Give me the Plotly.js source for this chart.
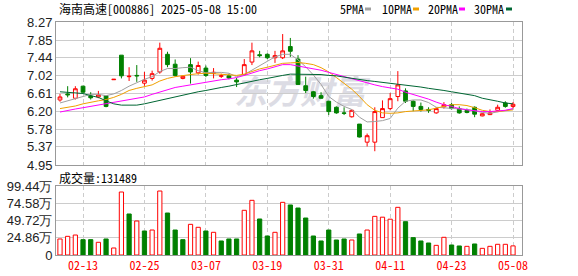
<!DOCTYPE html>
<html><head><meta charset="utf-8">
<script src="https://cdn.plot.ly/plotly-3.0.1.min.js"></script>
<style>html,body{margin:0;padding:0;background:#fff;}#chart{width:578px;height:276px;}</style>
</head><body><div id="chart"></div>
<script>
const dates = ['2025-02-10','2025-02-11','2025-02-12','2025-02-13','2025-02-14','2025-02-17','2025-02-18','2025-02-19','2025-02-20','2025-02-21',
'2025-02-24','2025-02-25','2025-02-26','2025-02-27','2025-02-28','2025-03-03','2025-03-04','2025-03-05','2025-03-06','2025-03-07',
'2025-03-10','2025-03-11','2025-03-12','2025-03-13','2025-03-14','2025-03-17','2025-03-18','2025-03-19','2025-03-20','2025-03-21',
'2025-03-24','2025-03-25','2025-03-26','2025-03-27','2025-03-28','2025-03-31','2025-04-01','2025-04-02','2025-04-03','2025-04-07',
'2025-04-08','2025-04-09','2025-04-10','2025-04-11','2025-04-14','2025-04-15','2025-04-16','2025-04-17','2025-04-18','2025-04-21',
'2025-04-22','2025-04-23','2025-04-24','2025-04-25','2025-04-28','2025-04-29','2025-04-30','2025-05-06','2025-05-07','2025-05-08'];
const openP  = [6.46,6.60,6.50,6.78,6.55,6.53,6.56,6.93,7.50,7.00, 7.03,6.85,6.96,7.11,7.52,7.29,6.96,7.28,7.09,7.20, 7.08,7.01,7.02,6.92,7.05,7.34,7.51,7.52,7.44,7.44, 7.70,7.41,6.79,6.65,6.56,6.43,6.29,6.16,6.07,5.90, 5.48,5.48,6.05,6.26,6.54,6.67,6.43,6.31,6.24,6.16, 6.30,6.35,6.26,6.22,6.29,6.09,6.12,6.22,6.39,6.31];
const highP  = [6.60,6.78,6.78,6.79,6.64,6.67,6.57,6.94,7.50,7.22, 7.27,7.11,7.14,7.79,7.58,7.40,7.02,7.43,7.35,7.26, 7.20,7.07,7.07,6.97,7.41,7.79,7.60,7.54,7.60,7.99, 7.90,7.50,7.00,6.67,6.64,6.44,6.31,6.29,6.24,5.90, 5.68,6.29,6.45,6.62,7.13,6.73,6.45,6.40,6.29,6.29, 6.41,6.39,6.31,6.26,6.31,6.15,6.24,6.35,6.43,6.41];
const lowP   = [6.42,6.52,6.47,6.63,6.47,6.50,6.29,6.93,6.96,6.90, 6.88,6.79,6.91,7.07,7.22,7.00,6.94,6.84,7.05,6.99, 6.96,6.97,6.94,6.76,7.03,7.27,7.45,7.41,7.32,7.41, 7.46,6.82,6.62,6.49,6.49,6.11,6.14,6.11,6.05,5.59, 5.38,5.27,6.05,6.22,6.43,6.39,6.20,6.19,6.16,6.14, 6.26,6.24,6.14,6.15,6.06,6.08,6.11,6.20,6.28,6.27];
const closeP = [6.53,6.58,6.72,6.64,6.51,6.58,6.31,6.94,7.02,7.01, 7.02,6.92,7.07,7.66,7.28,7.03,7.01,7.11,7.26,7.03, 7.10,7.02,6.97,6.88,7.28,7.60,7.49,7.44,7.49,7.60, 7.59,6.82,6.68,6.54,6.50,6.19,6.16,6.15,6.22,5.60, 5.63,6.19,6.26,6.49,6.81,6.43,6.31,6.24,6.22,6.26, 6.35,6.26,6.16,6.17,6.13,6.14,6.16,6.29,6.31,6.36];
// volume in 万手
const volume = [23.1,26.9,28.8,22.1,22.1,18.3,23.1,10.1,90.8,59.1, 49.0,34.6,36.0,92.2,60.5,36.0,22.1,44.2,39.9,34.6, 32.7,20.2,23.1,23.1,64.4,78.8,51.9,27.4,32.7,75.9, 72.1,67.7,53.3,27.4,20.2,36.0,21.6,23.1,21.6,30.3, 36.0,55.7,54.5,51.6,68.7,48.0,25.0,20.2,17.3,13.9, 25.5,14.4,13.0,12.5,15.9,9.6,12.5,15.4,15.4,13.1489];
const ma5  = [6.39,6.44,6.50,6.55,6.59,6.59,6.56,6.60,6.68,6.78, 6.86,6.94,7.00,7.12,7.19,7.19,7.21,7.22,7.14,7.09, 7.10,7.10,7.08,7.00,7.05,7.15,7.24,7.34,7.46,7.52, 7.52,7.39,7.23,7.04,6.82,6.54,6.41,6.31,6.24,6.06, 5.95,5.96,5.98,6.03,6.27,6.43,6.46,6.46,6.40,6.29, 6.28,6.27,6.25,6.24,6.21,6.17,6.15,6.18,6.21,6.25];
const ma10 = [6.26,6.29,6.32,6.37,6.41,6.44,6.47,6.52,6.59,6.68, 6.73,6.77,6.81,6.90,6.96,7.00,7.03,7.05,7.07,7.08, 7.07,7.06,7.05,7.03,7.06,7.12,7.18,7.22,7.27,7.31, 7.32,7.33,7.31,7.28,7.21,7.11,6.98,6.84,6.71,6.54, 6.35,6.22,6.16,6.15,6.16,6.19,6.20,6.21,6.23,6.27, 6.31,6.35,6.35,6.33,6.28,6.22,6.19,6.19,6.21,6.23];
const ma20 = [6.18,6.22,6.25,6.28,6.31,6.34,6.37,6.40,6.43,6.47, 6.50,6.53,6.59,6.64,6.69,6.75,6.78,6.81,6.84,6.88, 6.90,6.93,6.95,6.98,7.03,7.09,7.14,7.18,7.23,7.28, 7.28,7.25,7.22,7.18,7.15,7.10,7.05,7.00,6.95,6.90, 6.86,6.81,6.77,6.74,6.71,6.64,6.59,6.54,6.48,6.41, 6.35,6.31,6.26,6.23,6.21,6.19,6.19,6.20,6.22,6.26];
const ma30 = [6.65,6.64,6.62,6.61,6.56,6.52,6.44,6.37,6.34,6.34, 6.34,6.37,6.41,6.45,6.49,6.54,6.58,6.61,6.65,6.68, 6.72,6.75,6.78,6.82,6.86,6.89,6.93,6.96,7.00,7.03, 7.06,7.06,7.06,7.06,7.05,7.03,7.02,6.99,6.96,6.93, 6.91,6.89,6.87,6.84,6.83,6.81,6.78,6.76,6.73,6.71, 6.68,6.65,6.62,6.59,6.56,6.50,6.47,6.43,6.39,6.37];
const priceTicks = [4.95,5.37,5.78,6.20,6.61,7.02,7.44,7.85,8.27];
const volTicks = [0,24.86,49.72,74.58,99.44];
const volTickText = ['0','24.86万','49.72万','74.58万','99.44万'];
const dateTickVals = ['2025-02-13','2025-02-25','2025-03-07','2025-03-19','2025-03-31','2025-04-11','2025-04-23','2025-05-08'];
const dateTickText = ['02-13','02-25','03-07','03-19','03-31','04-11','04-23','05-08'];
const stockTitle = '海南高速[000886] 2025-05-08 15:00';
const maNames = ['5PMA','10PMA','20PMA','30PMA'];

const RED='#ff0000', GREEN='#008000';
const maColors = ['#a0a0a0','#f0a000','#ff00ff','#006633'];
const L=56,R=522,T=22,B=255;
const px = x => (x-L)/(R-L);
const py = y => (B-y)/(B-T);
const mono = '"Noto Sans Mono CJK SC","Noto Sans CJK SC","Liberation Mono",monospace';

const up = volume.map((v,i)=> i===0 ? closeP[0]>=openP[0] : closeP[i]>=closeP[i-1]);
const volFill = up.map(u=>u?'#ffffff':GREEN);
const volLine = up.map(u=>u?RED:GREEN);

const traces = [
  {type:'candlestick', x:dates, open:openP, high:highP, low:lowP, close:closeP, xaxis:'x', yaxis:'y',
   increasing:{line:{color:RED,width:1}, fillcolor:'#ffffff'},
   decreasing:{line:{color:GREEN,width:1}, fillcolor:GREEN}, whiskerwidth:0, hoverinfo:'skip'},
  ...[ma5,ma10,ma20,ma30].map((m,k)=>({type:'scatter', mode:'lines', x:dates, y:m, xaxis:'x', yaxis:'y',
     line:{color:maColors[k], width:1}, hoverinfo:'skip'})),
  {type:'bar', x:dates, y:volume, xaxis:'x2', yaxis:'y2', width:0.55,
   marker:{color:volFill, line:{color:volLine, width:1}}, hoverinfo:'skip'}
];

const xcommon = {type:'category', range:[-0.52,60.17], tickvals:dateTickVals, ticktext:dateTickText,
  showgrid:true, gridcolor:'#cccccc', gridwidth:1, griddash:'4px,3px', zeroline:false,
  showline:true, mirror:true, linecolor:'#999999', linewidth:1, ticks:'', automargin:false, fixedrange:true};
const ycommon = {showgrid:true, gridcolor:'#cccccc', gridwidth:1, zeroline:false, showline:true, mirror:true,
  linecolor:'#999999', linewidth:1, ticks:'', automargin:false, fixedrange:true,
  tickfont:{family:'"Liberation Sans",Arial,sans-serif', size:13, color:'#222'}};

const annotations = [
  {xref:'paper', yref:'paper', x:px(57), y:py(9), xanchor:'left', yanchor:'middle', showarrow:false,
   text:stockTitle, font:{family:mono, size:12, color:'#000'}},
  {xref:'paper', yref:'paper', x:px(57), y:py(177), xanchor:'left', yanchor:'middle', showarrow:false,
   text:'成交量:'+Math.round(volume[volume.length-1]*10000), font:{family:mono, size:12, color:'#000'}}
];
const legX = [338,380,426,472];
const sqX = [365,413,459,506];
const shapes = [];
maNames.forEach((n,k)=>{
  annotations.push({xref:'paper', yref:'paper', x:px(legX[k]), y:py(9), xanchor:'left', yanchor:'middle', showarrow:false,
    text:n, font:{family:mono, size:12, color:'#000'}});
  shapes.push({type:'rect', xref:'paper', yref:'paper', x0:px(sqX[k]), x1:px(sqX[k]+6), y0:py(10.5), y1:py(7.5),
    fillcolor:maColors[k], line:{width:0}});
});
shapes.push({type:'rect', xref:'paper', yref:'paper', x0:px(228), x1:px(372), y0:py(114), y1:py(76),
  line:{width:0}, fillcolor:'rgba(0,0,0,0)', layer:'below',
  label:{text:'东方财富', textposition:'middle center', font:{family:'"Noto Sans CJK SC"', size:33, color:'#dcdce4', weight:'bold', style:'italic'}}});

const layout = {
  width:578, height:276, margin:{l:56,r:56,t:22,b:21,pad:0},
  paper_bgcolor:'#ffffff', plot_bgcolor:'#ffffff', showlegend:false, dragmode:false,
  xaxis:Object.assign({}, xcommon, {anchor:'y', domain:[0,1], showticklabels:false, rangeslider:{visible:false}}),
  xaxis2:Object.assign({}, xcommon, {anchor:'y2', domain:[0,1], matches:'x', showticklabels:true,
    tickfont:{family:mono, size:12, color:RED}}),
  yaxis:Object.assign({}, ycommon, {domain:[py(165),1], range:[4.95,8.27], tickvals:priceTicks,
    ticktext:priceTicks.map(v=>v.toFixed(2))}),
  yaxis2:Object.assign({}, ycommon, {domain:[0,py(186)], range:[0,99.44], tickvals:volTicks, ticktext:volTickText}),
  annotations:annotations, shapes:shapes
};
Plotly.newPlot('chart', traces, layout, {staticPlot:true, displayModeBar:false});
</script></body></html>
